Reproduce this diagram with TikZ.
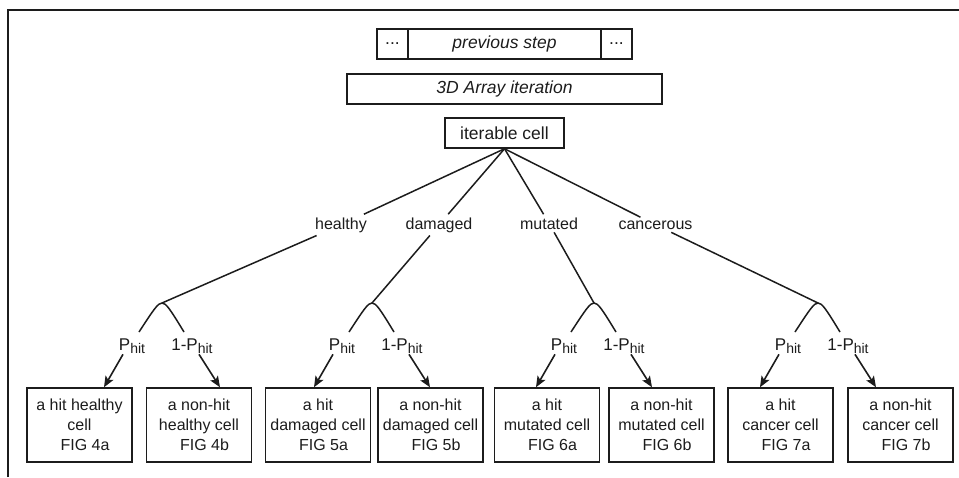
\documentclass[tikz,border=0pt]{standalone}
\usepackage{fontspec}
\setmainfont{Liberation Sans}
\usetikzlibrary{arrows.meta,calc}
\definecolor{ink}{HTML}{1C1C1C}
\newcommand\hitsub{\raisebox{-3pt}{\fontsize{14}{14}\selectfont hit}}
\begin{document}
\begin{tikzpicture}[x=1pt,y=-1pt,
  font=\fontsize{16}{20}\selectfont, color=ink,
  topbox/.style={draw=ink,line width=1.5pt,inner sep=0pt,minimum height=30pt,
    font=\fontsize{17.5}{20}\selectfont},
  cellbox/.style={draw=ink,line width=1.5pt,minimum width=105pt,minimum height=74pt,
    align=center,inner sep=0pt},
  branch/.style={inner sep=3pt,anchor=base},
  edge/.style={draw=ink,line width=1.5pt},
  prob/.style={inner sep=1pt,anchor=base,font=\fontsize{17}{20}\selectfont},
  arr/.style={draw=ink,line width=1.6pt,-{Stealth[length=11pt,width=9pt,inset=2.5pt]}},
]
\useasboundingbox (0,0) rectangle (959,477);

% frame edges
\draw[line width=2pt] (8,477) |- (959,10);

% header bars
\node[topbox,minimum width=31pt] (dl) at (392.5,44) {...};
\node[topbox,minimum width=193pt,font=\fontsize{17.5}{20}\selectfont\itshape] (prev) at (504.5,44) {previous step};
\node[topbox,minimum width=31pt] (dr) at (616.5,44) {...};
\node[topbox,minimum width=315pt,font=\fontsize{17.5}{20}\selectfont\itshape] (arr3d) at (504.5,89) {3D Array iteration};
\node[topbox,minimum width=119pt] (ic) at (504.5,133) {iterable cell};

% state labels on the branches
\node[branch] (lh) at (341,229) {healthy};
\node[branch] (ld) at (439,229) {damaged};
\node[branch] (lm) at (549,229) {mutated};
\node[branch] (lc) at (655.5,229) {cancerous};

% fork points
\coordinate (fh) at (162,303);
\coordinate (fd) at (372,303);
\coordinate (fm) at (594,303);
\coordinate (fc) at (818,303);

\draw[edge] (ic.south) -- (lh) -- (fh);
\draw[edge] (ic.south) -- (ld) -- (fd);
\draw[edge] (ic.south) -- (lm) -- (fm);
\draw[edge] (ic.south) -- (lc) -- (fc);

% outcome boxes
\node[cellbox] (b1) at (79.5,425) {a hit healthy\\cell\\\hspace*{11pt}FIG 4a};
\node[cellbox] (b2) at (199,425) {a non-hit\\healthy cell\\\hspace*{11pt}FIG 4b};
\node[cellbox] (b3) at (318,425) {a hit\\damaged cell\\\hspace*{11pt}FIG 5a};
\node[cellbox] (b4) at (430.5,425) {a non-hit\\damaged cell\\\hspace*{11pt}FIG 5b};
\node[cellbox] (b5) at (547,425) {a hit\\mutated cell\\\hspace*{11pt}FIG 6a};
\node[cellbox] (b6) at (661.5,425) {a non-hit\\mutated cell\\\hspace*{11pt}FIG 6b};
\node[cellbox] (b7) at (780.5,425) {a hit\\cancer cell\\\hspace*{11pt}FIG 7a};
\node[cellbox] (b8) at (900.5,425) {a non-hit\\cancer cell\\\hspace*{11pt}FIG 7b};

% hit / non-hit split under each state
\foreach \f/\L/\R in {fh/b1/b2, fd/b3/b4, fm/b5/b6, fc/b7/b8} {
  \draw[edge] ($(\f)+(-23,29)$) .. controls ($(\f)+(-8,6)$) and ($(\f)+(-4,0)$) .. (\f)
    .. controls ($(\f)+(4,0)$) and ($(\f)+(8,6)$) .. ($(\f)+(22,29)$);
  \node[prob] (\f p) at ($(\f)+(-30,47)$) {P\hitsub};
  \node[prob] (\f q) at ($(\f)+(30,47)$) {1-P\hitsub};
  \coordinate (\f ps) at ($(\f)+(-39,0)$);
  \coordinate (\f qs) at ($(\f)+(37,0)$);
  \coordinate (\f pt) at ($(\f)+(-58,0)$);
  \coordinate (\f qt) at ($(\f)+(58,0)$);
  \draw[arr] (\f p.south -| \f ps) -- (\L.north -| \f pt);
  \draw[arr] (\f q.south -| \f qs) -- (\R.north -| \f qt);
}
\end{tikzpicture}
\end{document}
